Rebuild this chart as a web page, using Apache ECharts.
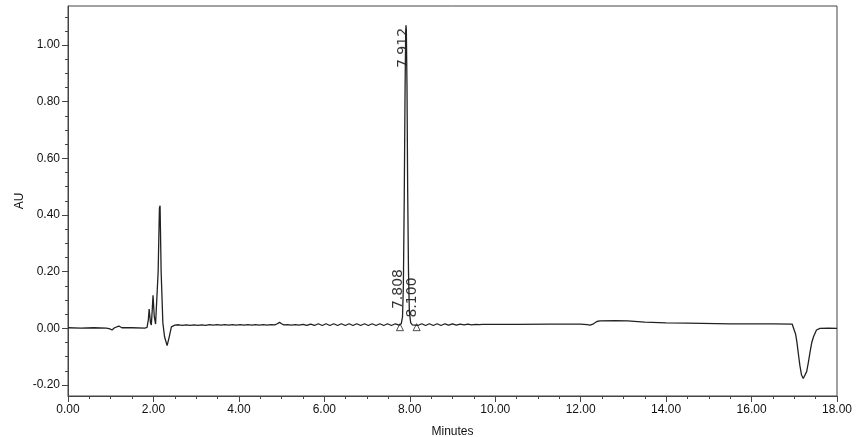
<!DOCTYPE html>
<html>
<head>
<meta charset="utf-8">
<script src="https://cdn.jsdelivr.net/npm/echarts@6/dist/echarts.min.js"></script>
<style>
  html, body { margin: 0; padding: 0; background: #fff; }
  #main { width: 864px; height: 437px; }
</style>
</head>
<body>
<div id="main"></div>
<script>
// chromatogram trace, [minutes, AU] in pieces
var earlyTrace = [
  [0.00, 0.002], [0.30, 0.001], [0.60, 0.002], [0.90, 0.001], [0.98, -0.002],
  [1.03, -0.006], [1.09, 0.002], [1.19, 0.008], [1.26, 0.002], [1.50, 0.002],
  [1.80, 0.001], [1.85, 0.003]
];
var frontPeaks = [
  [1.88, 0.03], [1.90, 0.068], [1.93, 0.02], [1.95, 0.012], [1.97, 0.06],
  [1.99, 0.117], [2.02, 0.04], [2.05, 0.015], [2.08, 0.012], [2.11, 0.2],
  [2.14, 0.425], [2.155, 0.433], [2.18, 0.2], [2.22, 0.02], [2.26, -0.03],
  [2.32, -0.061], [2.37, -0.03], [2.42, 0.005], [2.46, 0.011]
];
var rippleBefore = [
  [2.50, 0.011], [2.59, 0.0125], [2.68, 0.0105], [2.77, 0.0125], [2.86, 0.0105],
  [2.95, 0.0125], [3.04, 0.0105], [3.13, 0.0125], [3.22, 0.0105], [3.31, 0.013],
  [3.40, 0.011], [3.49, 0.013], [3.58, 0.011], [3.67, 0.013], [3.76, 0.011],
  [3.85, 0.013], [3.94, 0.011], [4.03, 0.013], [4.12, 0.011], [4.21, 0.013],
  [4.30, 0.011], [4.39, 0.013], [4.48, 0.011], [4.57, 0.013], [4.66, 0.011],
  [4.75, 0.013], [4.84, 0.012], [4.90, 0.016], [4.95, 0.021], [5.00, 0.016],
  [5.05, 0.012], [5.14, 0.013], [5.23, 0.011], [5.32, 0.013], [5.41, 0.011],
  [5.50, 0.014], [5.59, 0.010], [5.68, 0.015], [5.77, 0.010], [5.86, 0.016],
  [5.95, 0.010], [6.04, 0.016], [6.13, 0.010], [6.22, 0.016], [6.31, 0.010],
  [6.40, 0.016], [6.49, 0.010], [6.58, 0.016], [6.67, 0.010], [6.76, 0.016],
  [6.85, 0.010], [6.94, 0.016], [7.03, 0.010], [7.12, 0.016], [7.21, 0.010],
  [7.30, 0.016], [7.39, 0.010], [7.48, 0.016], [7.57, 0.010], [7.66, 0.016],
  [7.75, 0.011]
];
var mainPeak = [
  [7.80, 0.016], [7.83, 0.04], [7.85, 0.15], [7.87, 0.45], [7.89, 0.85],
  [7.905, 1.05], [7.912, 1.07], [7.92, 1.05], [7.935, 0.85], [7.95, 0.5],
  [7.97, 0.2], [7.99, 0.06], [8.02, 0.02], [8.06, 0.012], [8.10, 0.015]
];
var rippleAfter = [
  [8.19, 0.010], [8.28, 0.016], [8.37, 0.010], [8.46, 0.016], [8.55, 0.010],
  [8.64, 0.016], [8.73, 0.010], [8.82, 0.016], [8.91, 0.011], [9.00, 0.016],
  [9.09, 0.011], [9.18, 0.015], [9.27, 0.012], [9.36, 0.015], [9.45, 0.012],
  [9.54, 0.014], [9.63, 0.013]
];
var lateTrace = [
  [9.70, 0.014], [10.50, 0.014], [11.30, 0.015], [12.00, 0.015], [12.15, 0.013],
  [12.22, 0.011], [12.30, 0.016], [12.38, 0.024], [12.45, 0.026], [12.80, 0.027],
  [13.10, 0.026], [13.50, 0.022], [14.00, 0.019], [14.50, 0.018], [15.50, 0.016],
  [16.50, 0.016], [16.95, 0.015], [16.99, 0.012], [17.03, -0.02], [17.06, -0.047],
  [17.10, -0.095], [17.13, -0.13], [17.17, -0.165], [17.21, -0.177], [17.25, -0.172],
  [17.29, -0.153], [17.33, -0.12], [17.37, -0.083], [17.41, -0.05], [17.45, -0.03],
  [17.52, -0.006], [17.60, 0.0], [17.80, 0.001], [18.00, 0.0]
];

// peak labels: text and where its foot sits
var peakNames = ['7.808', '7.912', '8.100'];
var peakLabelAt = [[7.74, 0.068], [7.85, 0.919], [8.06, 0.038]];
// open triangles on the baseline
var peakMarkers = [[7.77, 0.004], [8.16, 0.004]];

var yMajor = [-0.2, 0, 0.2, 0.4, 0.6, 0.8, 1.0];
var yMinor = [-0.2, -0.15, -0.1, -0.05, 0, 0.05, 0.1, 0.15, 0.2, 0.25, 0.3, 0.35,
  0.4, 0.45, 0.5, 0.55, 0.6, 0.65, 0.7, 0.75, 0.8, 0.85, 0.9, 0.95, 1.0, 1.05, 1.1];

var trace = [].concat(earlyTrace, frontPeaks, rippleBefore, mainPeak, rippleAfter, lateTrace);

var font = 'Liberation Sans, Arial, sans-serif';
var ink = '#111';
var axisGrey = '#444';

var myChart = echarts.init(document.getElementById('main'));
var option = {
  animation: false,
  grid: {
    left: 68, right: 27, top: 6, bottom: 41,
    outerBoundsMode: 'none',
    show: true, borderColor: axisGrey, borderWidth: 1
  },
  xAxis: {
    type: 'value',
    min: 0, max: 18, interval: 2,
    name: 'Minutes',
    nameLocation: 'middle',
    nameGap: 30,
    nameTextStyle: { color: ink, fontFamily: font, fontSize: 12 },
    axisLine: { onZero: false, lineStyle: { color: axisGrey } },
    axisTick: { length: 6, lineStyle: { color: axisGrey } },
    minorTick: { show: true, splitNumber: 4, length: 3, lineStyle: { color: axisGrey } },
    splitLine: { show: false },
    axisLabel: {
      color: ink, fontFamily: font, fontSize: 12, margin: 8,
      formatter: function (v) { return v.toFixed(2); }
    }
  },
  yAxis: [
    {
      type: 'value',
      min: -0.239, max: 1.138,
      name: 'AU',
      nameLocation: 'middle',
      nameGap: 42,
      nameMoveOverlap: false,
      nameTextStyle: { color: ink, fontFamily: font, fontSize: 12 },
      axisLine: { show: true, lineStyle: { color: axisGrey } },
      axisTick: { show: true, length: 6, customValues: yMajor, lineStyle: { color: axisGrey } },
      splitLine: { show: false },
      axisLabel: {
        color: ink, fontFamily: font, fontSize: 12, margin: 8,
        customValues: yMajor,
        formatter: function (v) { return v.toFixed(2); }
      }
    },
    {
      // only the short ticks every 0.05
      type: 'value',
      position: 'left',
      min: -0.239, max: 1.138,
      axisLine: { show: false },
      axisTick: { show: true, length: 3, customValues: yMinor, lineStyle: { color: axisGrey } },
      axisLabel: { show: false },
      splitLine: { show: false }
    }
  ],
  series: [
    {
      type: 'line',
      data: trace,
      showSymbol: false,
      lineStyle: { color: '#222', width: 1.3 }
    },
    {
      type: 'scatter',
      data: peakMarkers,
      symbol: 'triangle',
      symbolSize: 7,
      itemStyle: { color: '#fff', borderColor: '#222', borderWidth: 1 }
    },
    {
      type: 'scatter',
      symbolSize: 0,
      data: peakLabelAt.map(function (p, i) {
        return { value: p, name: peakNames[i] };
      }),
      label: {
        show: true,
        position: 'inside',
        rotate: 90,
        align: 'left',
        verticalAlign: 'middle',
        formatter: '{b}',
        color: '#000',
        fontFamily: 'DejaVu Sans, sans-serif',
        fontSize: 14
      }
    }
  ]
};
myChart.setOption(option);
</script>
</body>
</html>
